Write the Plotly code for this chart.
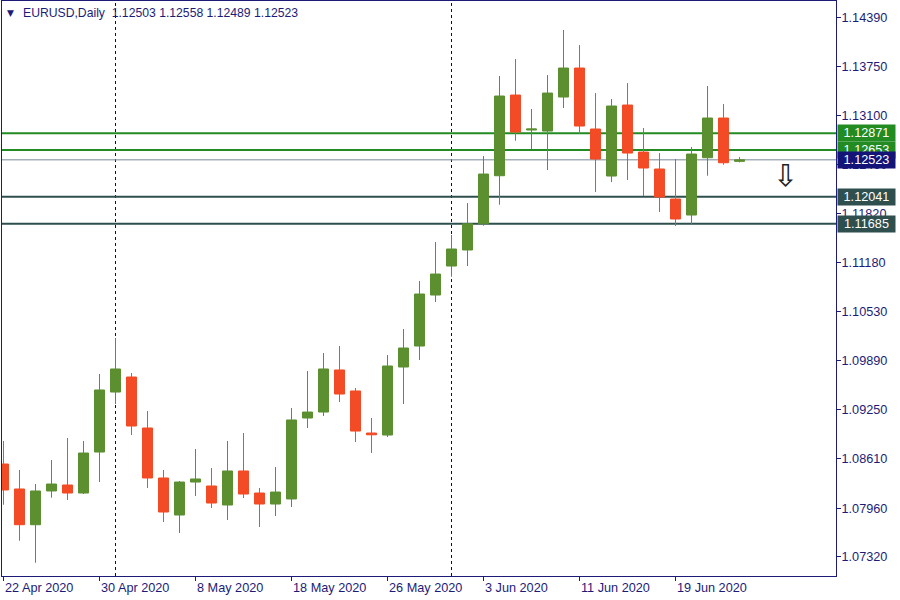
import plotly.graph_objects as go

# ---------------- data ----------------
symbol = "EURUSD,Daily"

dates = [
    "2020-04-22", "2020-04-23", "2020-04-24", "2020-04-27", "2020-04-28", "2020-04-29", "2020-04-30",
    "2020-05-01", "2020-05-04", "2020-05-05", "2020-05-06", "2020-05-07", "2020-05-08",
    "2020-05-11", "2020-05-12", "2020-05-13", "2020-05-14", "2020-05-15",
    "2020-05-18", "2020-05-19", "2020-05-20", "2020-05-21", "2020-05-22",
    "2020-05-25", "2020-05-26", "2020-05-27", "2020-05-28", "2020-05-29",
    "2020-06-01", "2020-06-02", "2020-06-03", "2020-06-04", "2020-06-05",
    "2020-06-08", "2020-06-09", "2020-06-10", "2020-06-11", "2020-06-12",
    "2020-06-15", "2020-06-16", "2020-06-17", "2020-06-18", "2020-06-19",
    "2020-06-22", "2020-06-23", "2020-06-24", "2020-06-25",
]

opens = [
    1.08538, 1.08211, 1.07743, 1.08185, 1.08263, 1.08158, 1.08695,
    1.09481, 1.09678, 1.09010, 1.08355, 1.07870, 1.08302,
    1.08250, 1.08001, 1.08447, 1.08158, 1.08014,
    1.08080, 1.09141, 1.09219, 1.09770, 1.09495,
    1.08944, 1.08918, 1.09809, 1.10084, 1.10752,
    1.11132, 1.11342, 1.11686, 1.12315, 1.13372,
    1.12914, 1.12900, 1.13346, 1.13726, 1.12927,
    1.12311, 1.13241, 1.12625, 1.12403, 1.12010,
    1.11800, 1.12551, 1.13071, 1.12503,
]
highs = [
    1.08840, 1.08460, 1.08276, 1.08591, 1.08879, 1.08840, 1.09717,
    1.10189, 1.09730, 1.09233, 1.08460, 1.08316, 1.08735,
    1.08486, 1.08840, 1.08944, 1.08224, 1.08499,
    1.09272, 1.09757, 1.09992, 1.10084, 1.09534,
    1.09141, 1.09966, 1.10307, 1.10936, 1.11446,
    1.11538, 1.11957, 1.12573, 1.13621, 1.13844,
    1.13189, 1.13634, 1.14224, 1.14027, 1.13398,
    1.13320, 1.13529, 1.12940, 1.12612, 1.12534,
    1.12691, 1.13490, 1.13254, 1.12558,
]
lows = [
    1.08005, 1.07533, 1.07245, 1.08097, 1.08067, 1.08145, 1.08302,
    1.09324, 1.08918, 1.08224, 1.07778, 1.07634, 1.08119,
    1.07962, 1.07805, 1.08093, 1.07713, 1.07857,
    1.07975, 1.09010, 1.09167, 1.09350, 1.08826,
    1.08682, 1.08892, 1.09324, 1.09901, 1.10660,
    1.10992, 1.11132, 1.11660, 1.11935, 1.12773,
    1.12665, 1.12390, 1.13202, 1.12861, 1.12101,
    1.12232, 1.12259, 1.12049, 1.11839, 1.11656,
    1.11669, 1.12315, 1.12459, 1.12489,
]
closes = [
    1.08198, 1.07743, 1.08185, 1.08276, 1.08158, 1.08682, 1.09508,
    1.09783, 1.09036, 1.08355, 1.07909, 1.08302, 1.08342,
    1.08027, 1.08447, 1.08145, 1.08014, 1.08171,
    1.09115, 1.09219, 1.09783, 1.09455, 1.08970,
    1.08921, 1.09822, 1.10058, 1.10765, 1.11027,
    1.11355, 1.11686, 1.12337, 1.13359, 1.12887,
    1.12927, 1.13398, 1.13726, 1.12966, 1.12534,
    1.13228, 1.12612, 1.12416, 1.12036, 1.11748,
    1.12599, 1.13071, 1.12485, 1.12523,
]

x_tick_dates = ["2020-04-22", "2020-04-30", "2020-05-08", "2020-05-18",
                "2020-05-26", "2020-06-03", "2020-06-11", "2020-06-19"]
x_tick_labels = ["22 Apr 2020", "30 Apr 2020", "8 May 2020", "18 May 2020",
                 "26 May 2020", "3 Jun 2020", "11 Jun 2020", "19 Jun 2020"]

y_tick_vals = [1.14390, 1.13750, 1.13100, 1.12460, 1.11820, 1.11180,
               1.10530, 1.09890, 1.09250, 1.08610, 1.07960, 1.07320]

green_levels = [1.12871, 1.12653]
dark_levels = [1.12041, 1.11685]
bid_level = 1.12523

signal_arrow_pos = 48.875      # bar position of the down-arrow signal
signal_arrow_price = 1.12324

# ---------------- styling ----------------
FG = "#1c1c78"
GREEN_C = "#5b8f30"
RED_C = "#f34b25"
FONT = "Liberation Sans"
AX_SIZE = 12.7

xs = list(range(len(dates)))

fig = go.Figure()
fig.add_trace(go.Candlestick(
    x=xs, open=opens, high=highs, low=lows, close=closes,
    increasing=dict(line=dict(color=GREEN_C, width=1), fillcolor=GREEN_C),
    decreasing=dict(line=dict(color=RED_C, width=1), fillcolor=RED_C),
    hoverinfo="skip", showlegend=False,
))

shapes = []
# month separators
for i in range(1, len(dates)):
    if dates[i][5:7] != dates[i - 1][5:7]:
        shapes.append(dict(type="line", xref="x", yref="paper", x0=i, x1=i, y0=0, y1=1,
                           line=dict(color="#0d0d45", width=1, dash="3px,3px"), layer="below"))
# horizontal levels
for lv in green_levels:
    shapes.append(dict(type="line", xref="paper", yref="y", x0=0, x1=1, y0=lv, y1=lv,
                       line=dict(color="#228b22", width=2), layer="below"))
for lv in dark_levels:
    shapes.append(dict(type="line", xref="paper", yref="y", x0=0, x1=1, y0=lv, y1=lv,
                       line=dict(color="#2f4f4f", width=2), layer="below"))
shapes.append(dict(type="line", xref="paper", yref="y", x0=0, x1=1, y0=bid_level, y1=bid_level,
                   line=dict(color="#778899", width=1), layer="below"))

annotations = []
# x labels, left aligned at the tick
for d, lab in zip(x_tick_dates, x_tick_labels):
    annotations.append(dict(x=dates.index(d), xref="x", y=0, yref="paper",
                            xanchor="left", yanchor="top", yshift=-3, xshift=-1,
                            text=lab, showarrow=False,
                            font=dict(family=FONT, size=AX_SIZE, color=FG)))

# price labels on the right axis
def price_box(val, color):
    return dict(x=1, xref="paper", y=val, yref="y", xanchor="left", yanchor="middle",
                xshift=1, text=f"{val:.5f}", showarrow=False, width=55, height=14,
                align="center", bgcolor=color, borderpad=1,
                font=dict(family=FONT, size=AX_SIZE, color="white"))

for lv in green_levels:
    annotations.append(price_box(lv, "#228b22"))
annotations.append(price_box(bid_level, "#141478"))
for lv in dark_levels:
    annotations.append(price_box(lv, "#2f4f4f"))

# header
header = (symbol + "\u00a0\u00a0" +
          " ".join(f"{v:.5f}" for v in (opens[-1], highs[-1], lows[-1], closes[-1])))
annotations.append(dict(x=0, xref="paper", y=1, yref="paper", xanchor="left", yanchor="middle",
                        xshift=19, yshift=-11.5, text=header, showarrow=False,
                        font=dict(family=FONT, size=12.2, color=FG)))
annotations.append(dict(x=0, xref="paper", y=1, yref="paper", xanchor="left", yanchor="middle",
                        xshift=3, yshift=-11.5, text="▼", showarrow=False,
                        font=dict(family="DejaVu Sans", size=9, color=FG)))

# signal arrow
annotations.append(dict(x=signal_arrow_pos, xref="x", y=signal_arrow_price, yref="y",
                        text="⇩", showarrow=False,
                        font=dict(family="DejaVu Sans", size=30, color="#222222")))

fig.update_layout(
    width=900, height=600,
    margin=dict(l=2, r=64, t=1, b=24),
    paper_bgcolor="white", plot_bgcolor="white",
    boxgap=0.375, boxgroupgap=0,
    shapes=shapes, annotations=annotations,
    hovermode=False, showlegend=False,
    font=dict(family=FONT, size=12, color=FG),
)
fig.update_xaxes(
    range=[-0.094, 52.03], rangeslider=dict(visible=False),
    showgrid=False, zeroline=False,
    showline=True, linecolor=FG, linewidth=1, mirror=True,
    tickvals=[dates.index(d) for d in x_tick_dates], showticklabels=False,
    ticks="outside", ticklen=4, tickcolor=FG,
)
fig.update_yaxes(
    range=[1.07071, 1.14604], side="right",
    showgrid=False, zeroline=False,
    showline=True, linecolor=FG, linewidth=1, mirror=True,
    tickvals=y_tick_vals, ticktext=[f"{v:.5f}" for v in y_tick_vals],
    ticks="outside", ticklen=4, tickcolor=FG, ticklabelstandoff=-2,
    tickfont=dict(family=FONT, size=AX_SIZE, color=FG),
)

fig.write_html("out.html", config={"displayModeBar": False},
               post_script="document.body.style.margin='0';document.body.style.padding='0';")
